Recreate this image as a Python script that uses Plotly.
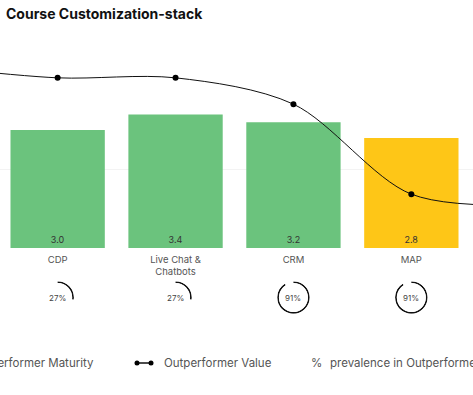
import plotly.graph_objects as go

# ---------------- data ----------------
title = "Course Customization-stack"
categories = ["", "CDP", "Live Chat &<br>Chatbots", "CRM", "MAP", ""]
maturity = [None, 3.0, 3.4, 3.2, 2.8, None]
bar_colors = ["#6BC37D", "#6BC37D", "#6BC37D", "#6BC37D", "#FEC617", "#6BC37D"]
outperformer_value = [4.6, 4.33, 4.33, 3.66, 1.37, 1.1]
prevalence = [None, 27, 27, 91, 91, None]
legend_labels = ["Outperformer Maturity", "Outperformer Value", "prevalence in Outperformers"]

# ---------------- layout constants ----------------
W, H = 473, 395
FONT = "Inter, 'Open Sans', sans-serif"
XR = [0.511, 4.523]
YR = [0, 6]
Y_DOM = [(H - 248) / H, 1 - 12.2 / H]
x_idx = list(range(len(categories)))


def px_x(p):
    return p / W


def px_y(p):
    return 1 - p / H


fig = go.Figure()

fig.add_trace(go.Bar(
    x=x_idx, y=maturity, width=0.8,
    marker=dict(color=bar_colors, line=dict(width=0)),
    text=[f"{v:.1f}" if v is not None else "" for v in maturity],
    textposition="inside", insidetextanchor="start",
    textfont=dict(size=9, color="#333333", family=FONT),
    hoverinfo="skip", showlegend=False,
))

fig.add_trace(go.Scatter(
    x=x_idx, y=outperformer_value, mode="lines+markers",
    line=dict(color="#111111", width=1, shape="spline", smoothing=0.9),
    marker=dict(size=6, color="#000000"),
    hoverinfo="skip", showlegend=False,
))

annotations = []
shapes = []

# rings for prevalence
ring_cy = px_y(297.5)
r_px = 16.3
k = 0
for i, p in enumerate(prevalence):
    if p is None:
        continue
    k += 1
    cx = (i - XR[0]) / (XR[1] - XR[0])
    name = "polar" if k == 1 else f"polar{k}"
    fig.add_trace(go.Barpolar(
        r=[1], theta=[p * 3.6 / 2], width=[p * 3.6],
        marker=dict(color="#111111", line=dict(width=0)),
        subplot=name, hoverinfo="skip", showlegend=False,
    ))
    fig.update_layout(**{name: dict(
        domain=dict(x=[cx - r_px / W, cx + r_px / W], y=[ring_cy - r_px / H, ring_cy + r_px / H]),
        hole=0.89, bgcolor="rgba(0,0,0,0)",
        radialaxis=dict(range=[0, 1], visible=False),
        angularaxis=dict(visible=False, direction="clockwise", rotation=90),
    )})
    annotations.append(dict(
        x=cx, y=ring_cy, xref="paper", yref="paper", text=f"{p}%", showarrow=False,
        xanchor="center", yanchor="middle", font=dict(size=8, color="#444444", family=FONT),
    ))

# title
annotations.append(dict(
    x=px_x(4), y=px_y(14), xref="paper", yref="paper", text=f"<b>{title}</b>",
    showarrow=False, xanchor="left", yanchor="middle",
    font=dict(size=14, color="#111111", family=FONT),
))

# legend (custom)
leg_y = px_y(363)
leg_font = dict(size=11.5, color="#555555", family=FONT)
annotations.append(dict(x=px_x(96), y=leg_y, xref="paper", yref="paper", text=legend_labels[0],
                        showarrow=False, xanchor="right", yanchor="middle", font=leg_font))
shapes.append(dict(type="rect", xref="paper", yref="paper", x0=px_x(-40), x1=px_x(-30),
                   y0=px_y(368), y1=px_y(358), fillcolor="#6BC37D", line=dict(width=0)))
shapes.append(dict(type="line", xref="paper", yref="paper", x0=px_x(135), x1=px_x(152),
                   y0=leg_y, y1=leg_y, line=dict(color="#111111", width=1.5)))
for cxp in (137, 151):
    shapes.append(dict(type="circle", xref="paper", yref="paper", xsizemode="pixel", ysizemode="pixel",
                       xanchor=px_x(cxp), yanchor=leg_y, x0=-2.5, x1=2.5, y0=-2.5, y1=2.5,
                       fillcolor="#000000", line=dict(width=0)))
annotations.append(dict(x=px_x(162), y=leg_y, xref="paper", yref="paper", text=legend_labels[1],
                        showarrow=False, xanchor="left", yanchor="middle", font=leg_font))
annotations.append(dict(x=px_x(309), y=leg_y, xref="paper", yref="paper", text="%",
                        showarrow=False, xanchor="left", yanchor="middle", font=leg_font))
annotations.append(dict(x=px_x(328), y=leg_y, xref="paper", yref="paper", text=legend_labels[2],
                        showarrow=False, xanchor="left", yanchor="middle", font=leg_font))

fig.update_layout(
    width=W, height=H,
    margin=dict(l=0, r=0, t=0, b=0),
    paper_bgcolor="white", plot_bgcolor="white",
    showlegend=False,
    bargap=0.2,
    xaxis=dict(range=XR, tickmode="array", tickvals=x_idx, ticktext=categories,
               showgrid=False, zeroline=False, showline=False, ticks="",
               ticklabelstandoff=4,
               tickfont=dict(size=9.5, color="#555555", family=FONT), fixedrange=True),
    yaxis=dict(range=YR, domain=Y_DOM, tickvals=[2], showticklabels=False,
               showgrid=True, gridcolor="#f3f3f3", gridwidth=1, zeroline=False,
               showline=False, fixedrange=True),
    annotations=annotations,
    shapes=shapes,
    font=dict(family=FONT),
)

fig.write_html(
    "out.html",
    config={"displayModeBar": False},
    post_script="document.body.style.margin='0';document.body.style.overflow='hidden';",
)
